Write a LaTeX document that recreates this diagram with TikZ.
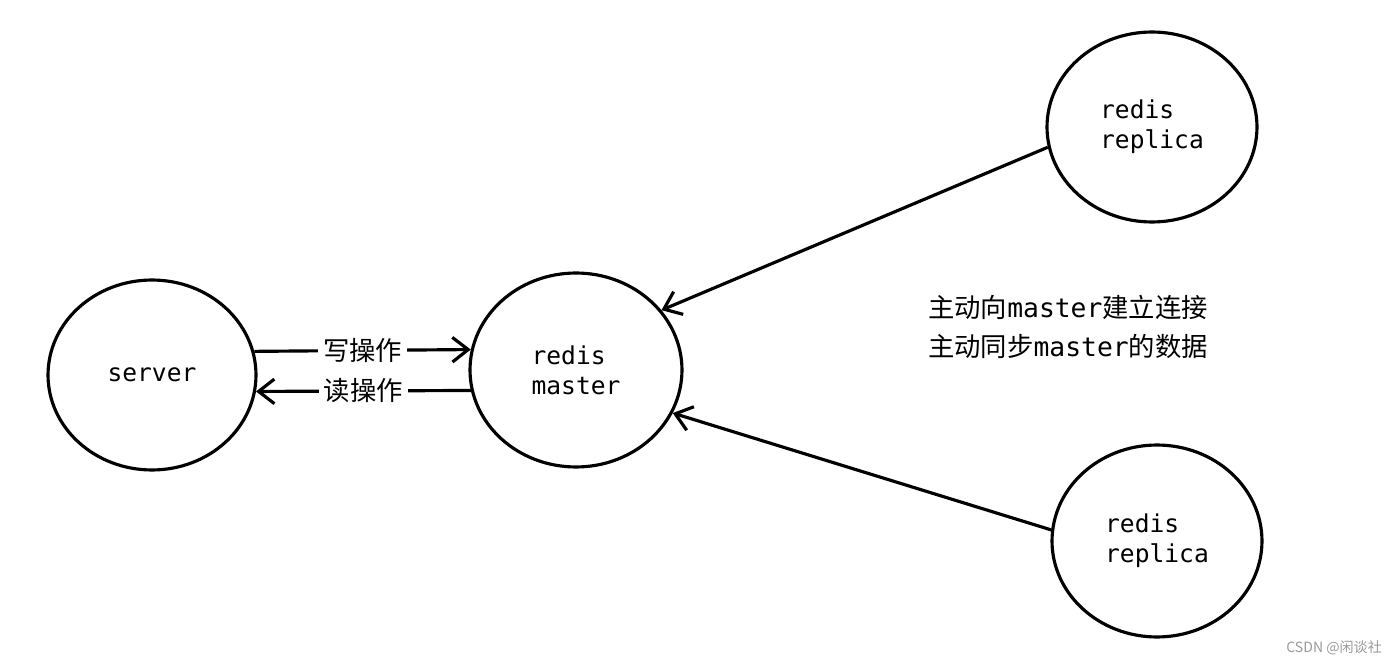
\documentclass[tikz,border=0pt]{standalone}
\usepackage{fontspec}
\setmonofont{DejaVu Sans Mono}
\newfontfamily\cjk{Noto Sans CJK SC}
\usetikzlibrary{arrows.meta,shapes.geometric}

\begin{document}
\begin{tikzpicture}[x=0.02cm,y=-0.02cm,
  redisnode/.style={draw,ellipse,line width=1.8pt,inner sep=0pt,align=left,
    font=\fontsize{14}{17}\selectfont\ttfamily},
  link/.style={line width=1.8pt,-{Straight Barb[length=9pt,width=14pt,line width=1.8pt]}},
  oplabel/.style={fill=white,inner sep=3pt,font=\fontsize{15}{18}\selectfont\cjk}]
  \useasboundingbox (0,0) rectangle (1400,665);
  \node[redisnode,minimum width=4.16cm,minimum height=3.8cm] (server) at (152,375) {server};
  \node[redisnode,minimum width=4.24cm,minimum height=3.88cm] (master) at (576,370) {redis\\master};
  \node[redisnode,minimum width=4.2cm,minimum height=3.8cm] (rtop) at (1152,127) {redis\\replica};
  \node[redisnode,minimum width=4.2cm,minimum height=3.84cm] (rbot) at (1157,541) {redis\\replica};
  % read / write
  \draw[link] (server.13) -- node[oplabel] (wlabel) {写操作} (master.169);
  \draw[link] (master.191) -- node[oplabel] (rlabel) {读操作} (server.351);
  % replicas pull from master
  \draw[link] (rtop.191) -- (master.35);
  \draw[link] (rbot.174) -- (master.336);
  \node[anchor=west,align=left,font=\fontsize{15}{22}\selectfont\cjk] (note) at (922,327)
    {主动向\texttt{master}建立连接\\主动同步\texttt{master}的数据};
  \node[anchor=east,text=gray!80,font=\fontsize{8}{10}\selectfont\cjk] (mark) at (1388,648) {CSDN @闲谈社};
\end{tikzpicture}
\end{document}
